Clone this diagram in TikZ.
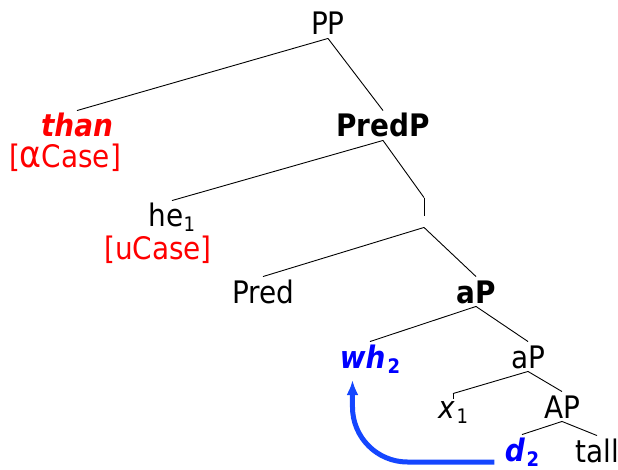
\documentclass[tikz,border=0pt]{standalone}
\usepackage{fontspec}
\setmainfont{DejaVu Sans Condensed}
\usepackage{tikz}
\usetikzlibrary{arrows.meta}
\definecolor{feat_red}{RGB}{255,0,0}
\definecolor{wh_blue}{RGB}{0,0,255}
\definecolor{move_blue}{RGB}{20,70,255}
\newcommand{\lowidx}[1]{\raisebox{-5pt}{\fontsize{20}{21}\selectfont #1}}

\begin{document}
\begin{tikzpicture}[x=1pt,y=-1pt,line width=0.9pt]
    \tikzstyle{cat}=[inner sep=0pt, anchor=base, text height=26pt, text depth=3pt, font=\fontsize{31}{36}\selectfont]
    \tikzstyle{head}=[style=cat, font=\fontsize{31}{36}\selectfont\bfseries]
    \tikzstyle{feat}=[style=cat, text=feat_red]
    \tikzstyle{trig}=[style=feat, font=\fontsize{31}{36}\selectfont\bfseries\itshape]
    \tikzstyle{moved}=[style=cat, text=wh_blue, font=\fontsize{31}{36}\selectfont\bfseries\itshape]
    \tikzstyle{move}=[draw=move_blue, line width=5pt, rounded corners=55pt, -{Latex[length=15pt,width=12pt]}]

    \useasboundingbox (0,0) rectangle (618,470);

    \node[cat]   (pp)    at (328,35)  {PP};
    \node[trig]  (than)  at (77,137)  {than};
    \node[feat]  (acase) at (65,168)  {[{\fontsize{37}{36}\selectfont α}Case]};
    \node[head]  (predp) at (383,137) {PredP};
    \node[cat]   (he)    at (172,227) {he\lowidx{1}};
    \node[feat]  (ucase) at (158,259) {[uCase]};
    \node[cat]   (bar)   at (424,224) {};
    \coordinate  (bartick) at (424,216);
    \node[cat]   (pred)  at (263,303) {Pred};
    \node[head]  (ap)    at (476,303) {aP};
    \node[moved] (wh)    at (370,368) {wh\hspace{2pt}\lowidx{\upshape 2}};
    \node[cat]   (ap2)   at (528,368) {aP};
    \node[cat, text height=24pt] (x) at (453,418) {\itshape x\hspace{2pt}\lowidx{\upshape 1}};
    \coordinate  (xtick) at (453,399);
    \node[cat]   (AP)    at (562,418) {AP};
    \node[moved] (d)     at (522,461) {d\hspace{2pt}\lowidx{\upshape 2}};
    \node[cat]   (tall)  at (597,462) {tall};

    \path
     (pp.south)    edge (than.north)
     (pp.south)    edge (predp.north)
     (predp.south) edge (he.north)
     (predp.south) edge (bar.north)
     (bar.north)   edge (bartick)
     (bar.south)   edge (pred.north)
     (bar.south)   edge (ap.north)
     (ap.south)    edge (wh.north)
     (ap.south)    edge (ap2.north)
     (ap2.south)   edge (x.north)
     (x.north)     edge (xtick)
     (ap2.south)   edge (AP.north)
     (AP.south)    edge (d.north)
     (AP.south)    edge (tall.north)
     ;

    \draw[move] ([xshift=-10pt,yshift=-1pt]d.base west) -| ([xshift=13pt,yshift=-12pt]wh.base west);
\end{tikzpicture}
\end{document}
